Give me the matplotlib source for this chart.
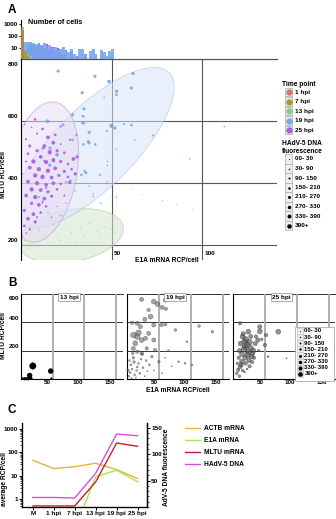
import numpy as np
import matplotlib
matplotlib.use('Agg')
import matplotlib.pyplot as plt
from matplotlib.patches import Ellipse, Rectangle
from matplotlib.transforms import ScaledTranslation
from matplotlib.lines import Line2D

# ---------------- data ----------------
tp_labels = ['1 hpi', '7 hpi', '13 hpi', '19 hpi', '25 hpi']
tp_colors = ['#d87474', '#a89a2c', '#8cc98c', '#74a8ee', '#b05ae0']
fl_labels = ['00- 30', '30- 90', '90- 150', '150- 210', '210- 270',
             '270- 330', '330- 390', '390+']

# histogram of E1A per cell (bins of 1.5 RCP)
hist_edges = np.arange(0, 51, 1.5)
hist_1hpi = [500] + [0] * 33
hist_7hpi = [300, 4, 2] + [0] * 31
hist_13hpi = [6, 4, 3, 2] + [0] * 30
hist_19hpi = [25, 32, 28, 30, 24, 20, 26, 16, 22, 13, 15, 9, 11, 6, 8, 12, 5,
              4, 7, 3, 2, 8, 7, 3, 0, 5, 8, 3, 0, 6, 4, 2, 5, 7]
hist_25hpi = [0, 6, 14, 20, 16, 12, 22, 14, 9, 18, 7, 12, 5, 9, 4, 3, 6, 0, 5,
              0, 2, 0, 0, 3, 0, 0, 0, 0, 0, 0, 0, 0, 0, 0]

# panel A cells: (E1A, MLTU, DNA fluorescence class)
a_13hpi = [(2, 215, 0), (5, 205, 0), (9, 210, 0), (14, 220, 0), (20, 235, 0),
           (28, 240, 0), (35, 230, 0), (42, 245, 0), (46, 260, 0), (49, 255, 0),
           (44, 225, 0), (38, 270, 0), (25, 265, 0), (15, 200, 0), (30, 210, 0),
           (52, 240, 0), (48, 285, 0), (10, 250, 0), (33, 255, 0), (22, 215, 0),
           (4, 190, 0), (8, 225, 0), (18, 245, 0), (1, 205, 0), (3, 200, 0)]
a_19hpi = [(20.6, 762, 4), (40.8, 745, 4), (48.6, 728, 5), (61.8, 754, 4),
           (60.9, 707, 4), (52.7, 697, 4), (52.7, 686, 3), (33.8, 692, 4),
           (45.9, 677, 1), (34.8, 640, 4), (28.5, 621, 4), (34.4, 616, 3),
           (14.8, 600, 5), (34.4, 595, 5), (23.4, 588, 3), (50, 585, 6),
           (51.8, 578, 4), (56.7, 591, 2), (61, 588, 3), (47.5, 569, 2),
           (72.8, 554, 2), (37.7, 564, 4), (30.7, 556, 3), (28.5, 540, 3),
           (37.1, 535, 3), (37.6, 530, 4), (41, 525, 3), (34.4, 525, 3),
           (62.7, 540, 1), (52.7, 510, 1), (22.1, 526, 2), (17.9, 531, 5),
           (16.1, 513, 4), (12.4, 513, 4), (93, 478, 1), (112, 583, 1),
           (47.8, 470, 1), (47.6, 457, 1), (35.3, 438, 3), (33.4, 427, 3),
           (35.9, 433, 3), (43.5, 427, 2), (37.7, 391, 1), (39.9, 356, 1),
           (47.6, 404, 1), (52.6, 355, 1), (61.8, 381, 0), (66.8, 362, 0),
           (78, 344, 0), (85.6, 330, 0), (94.8, 314, 0), (27.4, 408, 3),
           (25, 404, 2), (12, 424, 3), (14, 385, 3), (18, 472, 4), (20, 492, 5),
           (13, 472, 3), (16, 458, 4), (10, 355, 2), (12, 335, 1), (20, 325, 1),
           (15, 305, 1), (8, 275, 1), (5, 255, 1), (3, 235, 0), (10, 245, 0),
           (18, 265, 0), (22, 295, 1), (25, 335, 1), (30, 375, 1), (40, 365, 1),
           (44, 335, 1)]
a_25hpi = [(7.9, 606, 3), (2.9, 542, 2), (5, 520, 4), (9, 560, 2), (12, 575, 3),
           (15, 548, 5), (19, 556, 3), (22, 583, 2), (18, 530, 4), (13, 520, 5),
           (9, 505, 4), (4, 495, 3), (16, 500, 6), (20, 505, 4), (24, 498, 3),
           (11, 485, 5), (7, 470, 6), (14, 468, 6), (18, 475, 5), (22, 470, 4),
           (26, 462, 3), (29, 478, 5), (31, 485, 4), (5, 450, 5), (10, 445, 6),
           (15, 440, 6), (19, 448, 5), (24, 438, 4), (28, 445, 3), (8, 425, 6),
           (12, 420, 6), (17, 418, 5), (21, 425, 4), (26, 420, 3), (30, 430, 4),
           (4, 405, 5), (9, 400, 6), (14, 395, 5), (18, 400, 5), (22, 398, 3),
           (27, 402, 4), (6, 380, 6), (11, 378, 5), (15, 372, 4), (20, 380, 3),
           (3, 360, 5), (8, 355, 6), (13, 350, 5), (17, 358, 4), (6, 335, 4),
           (10, 330, 5), (14, 325, 3), (2, 312, 4), (7, 300, 5), (11, 305, 3),
           (4, 285, 5), (8, 275, 4), (2, 262, 3), (5, 250, 2), (3, 240, 1),
           (1, 228, 1), (9, 290, 2), (12, 340, 2), (24, 360, 2), (17, 290, 1),
           (3, 470, 2), (1, 430, 1), (27, 540, 2), (6, 580, 1), (2, 590, 1)]

# panel B cells per time point
b_13hpi = [(19, 92, 7), (14, 25, 5), (47, 56, 5), (15.5, 8, 2), (6, 2, 2),
           (9, 2, 2), (12, 2, 2), (17, 2, 1), (48, 2, 1), (3, 2, 1)]
b_19hpi = [(23, 562, 4), (42, 546, 5), (48, 529, 5), (60, 557, 4), (55, 506, 4),
           (61, 495, 3), (34, 487, 3), (37, 440, 5), (28, 421, 4), (16, 393, 4),
           (8, 397, 3), (21, 369, 4), (42, 381, 4), (54, 381, 3), (60, 386, 3),
           (76, 346, 2), (113, 374, 2), (134, 334, 2), (94, 263, 1), (10, 310, 6),
           (16, 299, 6), (18, 327, 6), (23, 275, 5), (13, 252, 5), (29, 287, 4),
           (34, 322, 4), (42, 275, 4), (10, 216, 4), (16, 193, 3), (31, 216, 3),
           (44, 205, 3), (23, 181, 3), (39, 158, 2), (50, 122, 2), (81, 122, 1),
           (91, 111, 1), (102, 99, 1), (3, 20, 1), (5, 45, 1), (8, 70, 1),
           (6, 100, 1), (12, 30, 1), (15, 60, 1), (4, 130, 1), (10, 150, 2),
           (18, 110, 1), (20, 40, 1), (25, 80, 1), (28, 20, 0), (32, 55, 0),
           (14, 10, 0), (7, 5, 0), (22, 140, 1), (9, 180, 2), (35, 100, 1),
           (42, 60, 0), (55, 40, 0), (60, 150, 0), (70, 90, 0), (2, 60, 2),
           (11, 120, 2), (16, 85, 1), (24, 175, 2), (30, 130, 1), (65, 200, 1)]
b_25hpi = [(11, 393, 3), (24, 334, 5), (42, 369, 4), (42, 336, 5), (52, 310, 3),
           (71, 334, 5), (39, 275, 4), (50, 240, 3), (19, 228, 6), (24, 193, 6),
           (29, 158, 5), (14, 122, 5), (8, 64, 3), (11, 87, 4), (55, 158, 1),
           (84, 146, 0), (15, 300, 5), (20, 280, 6), (26, 260, 6), (12, 250, 5),
           (17, 210, 6), (22, 240, 6), (28, 220, 5), (32, 200, 5), (10, 200, 4),
           (14, 175, 5), (19, 150, 5), (25, 130, 4), (31, 180, 4), (35, 250, 4),
           (9, 150, 3), (13, 100, 4), (20, 110, 3), (26, 90, 3), (6, 40, 2),
           (10, 20, 2), (15, 60, 2), (30, 120, 3), (36, 300, 3), (45, 280, 2),
           (7, 110, 2), (18, 50, 1), (22, 70, 1), (40, 200, 2), (16, 320, 4),
           (28, 300, 4), (33, 150, 3), (23, 170, 6), (18, 265, 5)]
b_titles = ['13 hpi', '19 hpi', '25 hpi']

# panel C
c_labels = ['M', '1 hpi', '7 hpi', '13 hpi', '19 hpi', '25 hpi']
c_actb = [45, 20, 24, 34, 18, 7.5]
c_e1a = [0.05, 0.05, 0.05, 9, 17, 5.5]
c_mltu = [0.5, 0.5, 0.5, 5.4, 250, 180]
c_dna = [18, 18, 17, 64, 138, 135]
c_names = ['ACTB mRNA', 'E1A mRNA', 'MLTU mRNA', 'HAdV-5 DNA']
c_colors = ['#e8b040', '#a4e854', '#c02424', '#d650e0']

# ---------------- setup ----------------
plt.rcParams['font.family'] = ['Liberation Sans', 'DejaVu Sans']
plt.rcParams['font.weight'] = 'bold'
plt.rcParams['font.size'] = 5

W, H = 336, 519
fig = plt.figure(figsize=(W / 100, H / 100), dpi=100)


def fx(px):
    return px / W


def fy(py):
    return 1 - py / H


def box(l, t, r, b):
    return [fx(l), fy(b), (r - l) / W, (b - t) / H]


def msize(k, base=1.0, step=0.55):
    return ((base + step * k) * 0.72) ** 2


def unpack(pts):
    a = np.array(pts, dtype=float)
    return a[:, 0], a[:, 1], a[:, 2]


def hbar(ax, counts, col, alpha):
    c = np.array(counts, dtype=float)
    ax.bar(hist_edges, np.where(c > 1, c - 1, 0), width=1.5, bottom=1,
           align='edge', color=col, alpha=alpha, linewidth=0, zorder=3)


# ---------------- panel A ----------------
fig.text(fx(8), fy(10), 'A', fontsize=8.5, va='center')

ax_h = fig.add_axes(box(20.7, 20, 277, 59.3))
hbar(ax_h, hist_25hpi, tp_colors[4], 1.0)
hbar(ax_h, hist_19hpi, tp_colors[3], 0.9)
hbar(ax_h, hist_13hpi, tp_colors[2], 0.8)
hbar(ax_h, hist_7hpi, tp_colors[1], 0.85)
hbar(ax_h, hist_1hpi, '#b07a50', 0.6)
ax_h.set_yscale('log')
ax_h.set_xlim(-0.3, 141)
ax_h.set_ylim(1, 2150)
for s in ['top', 'right', 'bottom']:
    ax_h.spines[s].set_visible(False)
ax_h.spines['left'].set_linewidth(0.8)
ax_h.spines['left'].set_position(('data', 0))
ax_h.set_xticks([])
ax_h.set_yticks([10, 100, 1000])
ax_h.set_yticklabels(['10', '100', '1000'])
ax_h.yaxis.set_minor_locator(matplotlib.ticker.NullLocator())
ax_h.tick_params(axis='y', length=1.5, width=0.6, pad=1, labelsize=4.6)
fig.text(fx(28), fy(23), 'Number of cells', fontsize=5.2, va='center')

ax_a = fig.add_axes(box(20.7, 59.3, 277, 260))
ax_a.set_xlim(0, 141)
ax_a.set_ylim(152, 800)
ax_a.patch.set_alpha(0)
for s in ['top', 'right', 'bottom']:
    ax_a.spines[s].set_visible(False)
ax_a.spines['left'].set_linewidth(0.8)
ax_a.set_xticks([])
ax_a.set_yticks([])
for v in [200, 400, 600]:
    ax_a.axhline(v, color='#555555', lw=0.8, zorder=0.5)
ax_a.axhline(800, color='#555555', lw=0.9, zorder=0.5, clip_on=False)
for v in [50, 100]:
    ax_a.axvline(v, color='#555555', lw=0.8, zorder=0.5)

ell_specs = [((27.6, 230), 106, 52, 10, '#d3e7cf', '#9fc79a'),
             ((40.2, 514), 213, 80, 45, '#d8e5f8', '#a6c0ea'),
             ((12.2, 436), 142, 68, 80, '#e8dbf3', '#b596d8')]
for (cx, cy), major, minor, ang, fc, ec in ell_specs:
    tr = fig.dpi_scale_trans + ScaledTranslation(cx, cy, ax_a.transData)
    e = Ellipse((0, 0), major / 100, minor / 100, angle=ang, transform=tr,
                facecolor=fc, edgecolor=ec, lw=0.7, alpha=0.55, zorder=1)
    ax_a.add_patch(e)

for pts, col in [(a_13hpi, tp_colors[2]), (a_19hpi, tp_colors[3]), (a_25hpi, tp_colors[4])]:
    x, y, k = unpack(pts)
    ax_a.scatter(x, y, s=msize(k), color=col, edgecolors='none', alpha=0.9, zorder=3)

for v, lab in [(800, '800'), (600, '600'), (400, '400'), (200, '200')]:
    ax_a.text(-1.5, v + (-8 if v == 800 else 8), lab, ha='right',
              va='top' if v == 800 else 'bottom', fontsize=4.5, clip_on=False)
for v in [50, 100]:
    ax_a.text(v + 1, 172, str(v), ha='left', va='center', fontsize=4.6)
fig.text(fx(4), fy(175), 'MLTU RCP/cell', rotation=90, ha='center', va='center', fontsize=4.8)
fig.text(fx(167), fy(260), 'E1A mRNA RCP/cell', ha='center', va='center', fontsize=4.8)

# legend A: time points
fig.text(fx(282), fy(84), 'Time point', fontsize=4.8, va='center')
for i, (lab, col) in enumerate(zip(tp_labels, tp_colors)):
    yc = 92 + 9.5 * i
    fig.add_artist(Rectangle((fx(285), fy(yc + 4)), 7 / W, 8 / H, transform=fig.transFigure,
                             facecolor='#eeeeee', edgecolor='#aaaaaa', lw=0.5))
    fig.add_artist(Line2D([fx(288.5)], [fy(yc)], marker='o', markersize=4.6,
                          color=col, markeredgewidth=0, transform=fig.transFigure))
    fig.text(fx(295), fy(yc), lab, fontsize=4.6, va='center')

# legend A: DNA fluorescence sizes
fig.text(fx(282), fy(143), 'HAdV-5 DNA', fontsize=4.8, va='center')
fig.text(fx(282), fy(151.5), 'fluorescence', fontsize=4.8, va='center')
for i, lab in enumerate(fl_labels):
    yc = 159 + 9.5 * i
    fig.add_artist(Rectangle((fx(285), fy(yc + 4.75)), 7 / W, 9.5 / H, transform=fig.transFigure,
                             facecolor='#eeeeee', edgecolor='#aaaaaa', lw=0.5))
    fig.add_artist(Line2D([fx(288.5)], [fy(yc)], marker='o', markersize=(1.0 + 0.5 * i) * 0.72,
                          color='black', markeredgewidth=0, transform=fig.transFigure))
    fig.text(fx(295), fy(yc), lab, fontsize=4.6, va='center')

# ---------------- panel B ----------------
fig.text(fx(8), fy(283), 'B', fontsize=8.5, va='center')
b_data = [b_13hpi, b_19hpi, b_25hpi]
b_lefts = [20.7, 127, 233]
b_style = [('black', 'black', 1.0), ('#666666', '#333333', 0.6), ('#555555', '#222222', 0.65)]
for i, (pts, title, left) in enumerate(zip(b_data, b_titles, b_lefts)):
    ax = fig.add_axes(box(left, 294, left + 102, 379))
    ax.set_xlim(0, 160)
    ax.set_ylim(0, 600)
    ax.patch.set_alpha(0)
    for s in ['top', 'right']:
        ax.spines[s].set_visible(False)
    for s in ['left', 'bottom']:
        ax.spines[s].set_linewidth(0.8)
    ax.set_xticks([])
    ax.set_yticks([])
    for v in [200, 400]:
        ax.axhline(v, color='#333333', lw=0.7, zorder=0.5)
    ax.axhline(600, color='#333333', lw=0.7, zorder=0.5, clip_on=False)
    for v in [50, 100, 150]:
        ax.axvline(v, color='#aaaaaa', lw=1.3, zorder=0.5)
        ax.text(v - 2, -4, str(v), ha='right', va='top', fontsize=4.5, clip_on=False)
    x, y, k = unpack(pts)
    fc, ec, al = b_style[i]
    ax.scatter(x, y, s=msize(k, 1.2, 0.75), color=fc, edgecolors=ec,
               linewidths=0.3, alpha=al, zorder=3, clip_on=False)
    ax.text(76, 596, title, ha='center', va='top', fontsize=4.6, zorder=5,
            bbox=dict(boxstyle='square,pad=0.25', facecolor='white', edgecolor='#888888', lw=0.5))
    if i == 0:
        for v, lab in [(600, '600'), (400, '400'), (200, '200')]:
            ax.text(-2, v + (-15 if v == 600 else 10), lab, ha='right',
                    va='top' if v == 600 else 'bottom', fontsize=4.5, clip_on=False)
fig.text(fx(4), fy(336), 'MLTU RCP/cell', rotation=90, ha='center', va='center', fontsize=4.8)
fig.text(fx(178), fy(391), 'E1A mRNA RCP/cell', ha='center', va='center', fontsize=4.8)

fig.add_artist(Rectangle((fx(295), fy(380.5)), 39 / W, 54 / H, transform=fig.transFigure,
                         facecolor='white', edgecolor='#999999', lw=0.5))
for i, lab in enumerate(fl_labels):
    yc = 331 + 6.14 * i
    fig.add_artist(Rectangle((fx(296.5), fy(yc + 3)), 6 / W, 6.1 / H, transform=fig.transFigure,
                             facecolor='#eeeeee', edgecolor='#bbbbbb', lw=0.4))
    fig.add_artist(Line2D([fx(299.5)], [fy(yc)], marker='o', markersize=(0.8 + 0.55 * i) * 0.72,
                          color='black', markeredgewidth=0, transform=fig.transFigure))
    fig.text(fx(304.5), fy(yc), lab, fontsize=4.3, va='center')

# ---------------- panel C ----------------
fig.text(fx(8), fy(410), 'C', fontsize=8.5, va='center')
ax_c = fig.add_axes(box(22, 423, 147, 507))
xc = np.arange(len(c_labels))
ax_c.plot(xc, c_actb, color=c_colors[0], lw=1.0, zorder=3)
ax_c.plot(xc, c_e1a, color=c_colors[1], lw=1.0, zorder=3)
ax_c.plot(xc, c_mltu, color=c_colors[2], lw=1.0, zorder=3, clip_on=False)
ax_c.set_yscale('log')
ax_c.set_ylim(0.45, 1800)
ax_c.set_xlim(-0.52, 5.45)
ax_c.set_yticks([1, 10, 100, 1000])
ax_c.set_yticklabels(['1', '10', '100', '1000'])
ax_c.set_xticks(xc)
ax_c.set_xticklabels(c_labels)
ax_c.spines['top'].set_visible(False)
for s in ['left', 'right', 'bottom']:
    ax_c.spines[s].set_linewidth(0.9)
ax_c.tick_params(axis='both', which='major', length=2, width=0.7, pad=1, labelsize=4.6)
ax_c.tick_params(axis='y', which='minor', length=1.2, width=0.5)
fig.text(fx(5), fy(479), 'average RCP/cell', rotation=90, ha='center', va='center', fontsize=4.8)

ax_r = ax_c.twinx()
ax_r.plot(xc, c_dna, color=c_colors[3], lw=1.0, zorder=3)
ax_r.set_ylim(0, 159)
ax_r.set_yticks([50, 100, 150])
ax_r.yaxis.set_minor_locator(matplotlib.ticker.MultipleLocator(10))
ax_r.spines['top'].set_visible(False)
ax_r.spines['right'].set_linewidth(0.9)
ax_r.tick_params(axis='y', which='major', length=2, width=0.7, pad=1, labelsize=4.6)
ax_r.tick_params(axis='y', which='minor', length=1.2, width=0.5)
fig.text(fx(167), fy(467), 'AdV-5 DNA fluorescence', rotation=90, ha='center', va='center', fontsize=4.8)

for i, (name, col) in enumerate(zip(c_names, c_colors)):
    yc = 428 + 12 * i
    fig.add_artist(Line2D([fx(185), fx(200)], [fy(yc), fy(yc)], color=col, lw=1.0,
                          transform=fig.transFigure))
    fig.text(fx(204), fy(yc), name, fontsize=4.8, va='center')

fig.savefig('out.png', dpi=100)
